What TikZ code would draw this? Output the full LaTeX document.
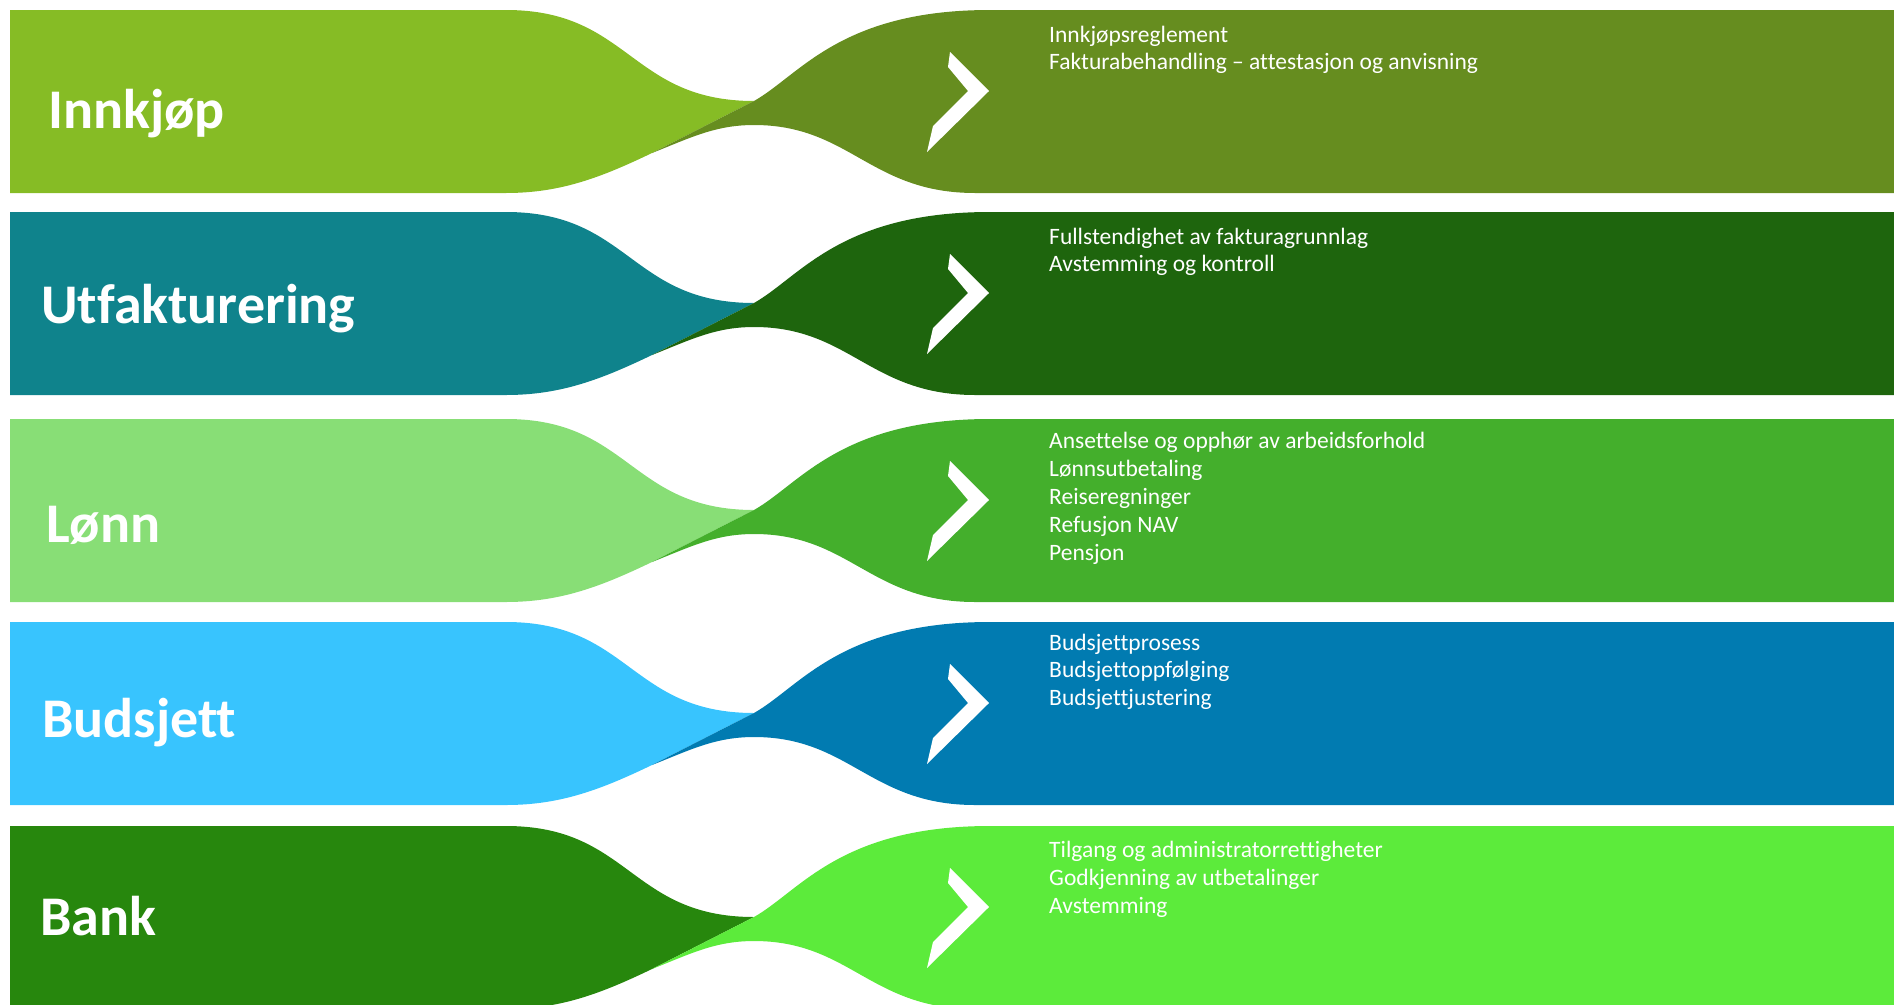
\documentclass[tikz,border=0pt]{standalone}
\usepackage{fontspec}
\setmainfont[Ligatures={NoCommon}]{Carlito}
\definecolor{lA}{HTML}{86BC25}\definecolor{rA}{HTML}{668D1F}
\definecolor{lB}{HTML}{0F838C}\definecolor{rB}{HTML}{1E650D}
\definecolor{lC}{HTML}{88DE76}\definecolor{rC}{HTML}{44AF2C}
\definecolor{lD}{HTML}{38C4FE}\definecolor{rD}{HTML}{017BB1}
\definecolor{lE}{HTML}{27870D}\definecolor{rE}{HTML}{5CEB3B}
\tikzset{
  bigtitle/.style={anchor=base west,inner sep=0pt,text=white,font=\fontsize{56}{66}\selectfont\bfseries},
  itemtext/.style={anchor=base west,inner sep=0pt,text=white,font=\fontsize{23.5}{28}\selectfont},
}
\newcommand{\bandrow}[3]{%
  \fill[#2] (10,#1) -- (506,#1) .. controls (630,#1) and (630,#1+91) .. (754,#1+91)
     -- (652,#1+143) .. controls (600,#1+168) and (560,#1+183) .. (506,#1+183)
     -- (10,#1+183) -- cycle;
  \fill[#3] (1894,#1) -- (990,#1) .. controls (840,#1) and (800,#1+65) .. (754,#1+91)
     -- (652,#1+143) .. controls (690,#1+128) and (715,#1+115) .. (754,#1+115)
     .. controls (850,#1+115) and (870,#1+183) .. (975,#1+183)
     -- (1894,#1+183) -- cycle;
  \fill[white] (950,#1+42) -- (989,#1+81) -- (927,#1+142) -- (933,#1+116)
     -- (968,#1+81) -- (948,#1+57) -- cycle;
}
\begin{document}
\begin{tikzpicture}[x=1pt,y=-1pt]
\useasboundingbox (0,0) rectangle (1894,1004);
\clip (0,0) rectangle (1894,1004);
\bandrow{10}{lA}{rA}
\bandrow{212}{lB}{rB}
\bandrow{419}{lC}{rC}
\bandrow{622}{lD}{rD}
\bandrow{826}{lE}{rE}
% left titles
\node[bigtitle] (t1) at (48,128) {Innkjøp};
\node[bigtitle] (t2) at (41,323) {Utfakturering};
\node[bigtitle] (t3) at (46,542) {Lønn};
\node[bigtitle] (t4) at (42,737) {Budsjett};
\node[bigtitle] (t5) at (40,935) {Bank};
% right texts
\node[itemtext] (a1) at (1049,42) {Innkjøpsreglement};
\node[itemtext] (a2) at (1049,69) {Fakturabehandling – attestasjon og anvisning};
\node[itemtext] (b1) at (1049,244) {Fullstendighet av fakturagrunnlag};
\node[itemtext] (b2) at (1049,271) {Avstemming og kontroll};
\node[itemtext] (c1) at (1049,448) {Ansettelse og opphør av arbeidsforhold};
\node[itemtext] (c2) at (1049,476) {Lønnsutbetaling};
\node[itemtext] (c3) at (1049,504) {Reiseregninger};
\node[itemtext] (c4) at (1049,532) {Refusjon NAV};
\node[itemtext] (c5) at (1049,560) {Pensjon};
\node[itemtext] (d1) at (1049,650) {Budsjettprosess};
\node[itemtext] (d2) at (1049,677) {Budsjettoppfølging};
\node[itemtext] (d3) at (1049,705) {Budsjettjustering};
\node[itemtext] (e1) at (1049,857) {Tilgang og administratorrettigheter};
\node[itemtext] (e2) at (1049,885) {Godkjenning av utbetalinger};
\node[itemtext] (e3) at (1049,913) {Avstemming};
\end{tikzpicture}
\end{document}
